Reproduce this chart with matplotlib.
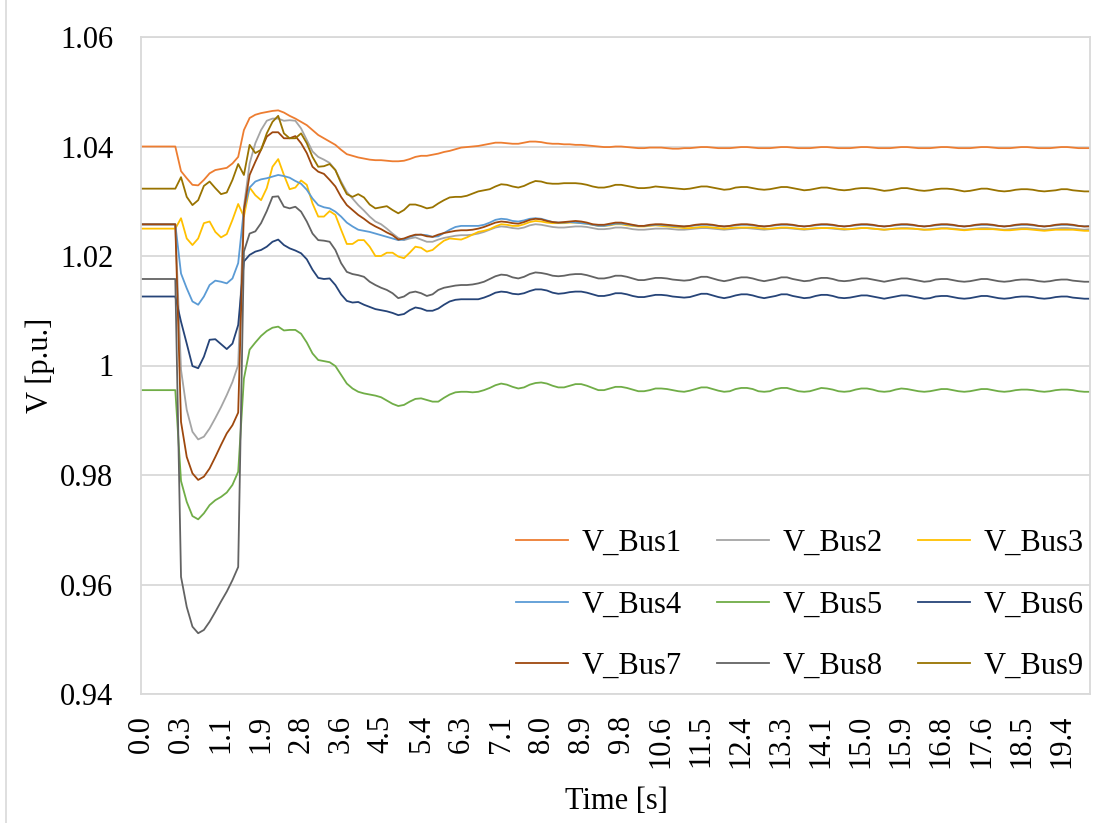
import matplotlib
matplotlib.use('Agg')
import matplotlib.pyplot as plt
import numpy as np

# bus voltages after the fault, one value per time step (167 steps)
tick_labels = ['0.0', '0.3', '1.1', '1.9', '2.8', '3.6', '4.5', '5.4', '6.3', '7.1', '8.0', '8.9',
               '9.8', '10.6', '11.5', '12.4', '13.3', '14.1', '15.0', '15.9', '16.8', '17.6', '18.5', '19.4']

v_bus1 = [
    1.0400, 1.0400, 1.0400, 1.0400, 1.0400, 1.0400, 1.0400,
    1.0355, 1.0342, 1.0330, 1.0329, 1.0339, 1.0351, 1.0357, 1.0359, 1.0361, 1.0369, 1.0381,
    1.0430, 1.0452, 1.0458, 1.0461, 1.0463, 1.0465, 1.0466, 1.0462, 1.0456,
    1.0451, 1.0445, 1.0439, 1.0430, 1.0421, 1.0415, 1.0409, 1.0403, 1.0394, 1.0386, 1.0383, 1.0380, 1.0378,
    1.0376, 1.0375, 1.0375, 1.0374, 1.0373, 1.0373, 1.0374, 1.0377, 1.0381, 1.0383, 1.0383, 1.0385, 1.0387,
    1.0390, 1.0392, 1.0395, 1.0398, 1.0399, 1.0400, 1.0401, 1.0403,
    1.0405, 1.0407, 1.0407, 1.0406, 1.0405, 1.0405, 1.0407, 1.0409, 1.0409, 1.0408,
    1.0406, 1.0405, 1.0405, 1.0404, 1.0404, 1.0403, 1.0403, 1.0402, 1.0401, 1.0400,
    1.0399, 1.0399, 1.0400, 1.0400, 1.0399, 1.0398, 1.0397, 1.0397, 1.0398, 1.0398, 1.0398, 1.0397, 1.0396, 1.0396,
    1.0397, 1.0397, 1.0398, 1.0399, 1.0399, 1.0398, 1.0397,
    1.0397, 1.0397, 1.0398, 1.0399, 1.0399, 1.0398, 1.0397,
    1.0397, 1.0397, 1.0398, 1.0399, 1.0399, 1.0398, 1.0397,
    1.0397, 1.0397, 1.0398, 1.0399, 1.0399, 1.0398, 1.0397,
    1.0397, 1.0397, 1.0398, 1.0399, 1.0399, 1.0398, 1.0397,
    1.0397, 1.0397, 1.0398, 1.0399, 1.0399, 1.0398, 1.0397,
    1.0397, 1.0397, 1.0398, 1.0399, 1.0399, 1.0398, 1.0397,
    1.0397, 1.0397, 1.0398, 1.0399, 1.0399, 1.0398, 1.0397,
    1.0397, 1.0397, 1.0398, 1.0399, 1.0399, 1.0398, 1.0397,
    1.0397, 1.0397, 1.0398, 1.0399, 1.0399, 1.0398, 1.0397,
    1.0397, 1.0397]

v_bus2 = [
    1.0257, 1.0257, 1.0257, 1.0257, 1.0257, 1.0257, 1.0257,
    0.9992, 0.9919, 0.9879, 0.9865, 0.9870, 0.9885, 0.9904, 0.9924, 0.9946, 0.9970, 1.0001,
    1.0290, 1.0369, 1.0406, 1.0430, 1.0447, 1.0451, 1.0451, 1.0447, 1.0448, 1.0447, 1.0433, 1.0412, 1.0391,
    1.0381, 1.0376, 1.0370, 1.0357, 1.0336, 1.0317, 1.0305, 1.0293, 1.0283, 1.0272, 1.0263, 1.0258, 1.0250,
    1.0241, 1.0233, 1.0229, 1.0232, 1.0234, 1.0230, 1.0226, 1.0226, 1.0230,
    1.0233, 1.0235, 1.0237, 1.0238, 1.0238, 1.0239, 1.0241, 1.0244, 1.0248, 1.0252, 1.0254, 1.0253, 1.0251, 1.0250,
    1.0252, 1.0256, 1.0258, 1.0257, 1.0255, 1.0253, 1.0252, 1.0252, 1.0253, 1.0254, 1.0254, 1.0253, 1.0251, 1.0249,
    1.0249, 1.0250, 1.0252, 1.0252, 1.0251, 1.0249, 1.0248, 1.0248, 1.0249, 1.0250, 1.0250, 1.0250, 1.0249, 1.0248,
    1.0248, 1.0249, 1.0250, 1.0251, 1.0251, 1.0250, 1.0249,
    1.0248, 1.0249, 1.0250, 1.0251, 1.0251, 1.0250, 1.0249,
    1.0248, 1.0249, 1.0250, 1.0251, 1.0251, 1.0250, 1.0249,
    1.0248, 1.0249, 1.0250, 1.0251, 1.0251, 1.0250, 1.0249,
    1.0248, 1.0249, 1.0250, 1.0251, 1.0251, 1.0250, 1.0249,
    1.0248, 1.0249, 1.0250, 1.0251, 1.0251, 1.0250, 1.0249,
    1.0248, 1.0249, 1.0250, 1.0251, 1.0251, 1.0250, 1.0249,
    1.0248, 1.0249, 1.0250, 1.0251, 1.0251, 1.0250, 1.0249,
    1.0248, 1.0249, 1.0250, 1.0251, 1.0251, 1.0250, 1.0249,
    1.0248, 1.0249, 1.0250, 1.0251, 1.0251, 1.0250, 1.0249,
    1.0248, 1.0249]

v_bus3 = [
    1.0250, 1.0250, 1.0250, 1.0250, 1.0250, 1.0250, 1.0250,
    1.0269, 1.0232, 1.0220, 1.0232, 1.0260, 1.0263, 1.0244, 1.0234, 1.0240, 1.0266, 1.0295,
    1.0272, 1.0325, 1.0311, 1.0302, 1.0324, 1.0363, 1.0377, 1.0348, 1.0322,
    1.0325, 1.0338, 1.0330, 1.0296, 1.0272, 1.0272, 1.0282, 1.0275, 1.0248, 1.0222, 1.0222, 1.0229, 1.0229,
    1.0217, 1.0200, 1.0200, 1.0206, 1.0206, 1.0199, 1.0196, 1.0206, 1.0217, 1.0215, 1.0208, 1.0211, 1.0220,
    1.0228, 1.0232, 1.0231, 1.0230, 1.0234, 1.0239, 1.0244, 1.0246, 1.0249, 1.0254, 1.0258, 1.0257, 1.0255, 1.0255,
    1.0258, 1.0262, 1.0264, 1.0263, 1.0261, 1.0260, 1.0260, 1.0260, 1.0261, 1.0261, 1.0260, 1.0259, 1.0257, 1.0255,
    1.0255, 1.0256, 1.0258, 1.0258, 1.0256, 1.0255, 1.0254, 1.0254, 1.0255, 1.0256, 1.0255, 1.0254, 1.0253, 1.0252,
    1.0251, 1.0251, 1.0252, 1.0253, 1.0253, 1.0252, 1.0251,
    1.0250, 1.0251, 1.0252, 1.0252, 1.0252, 1.0252, 1.0251,
    1.0250, 1.0250, 1.0251, 1.0252, 1.0252, 1.0251, 1.0250,
    1.0249, 1.0250, 1.0251, 1.0251, 1.0251, 1.0251, 1.0250,
    1.0249, 1.0249, 1.0250, 1.0251, 1.0251, 1.0250, 1.0249,
    1.0248, 1.0249, 1.0250, 1.0250, 1.0250, 1.0250, 1.0249,
    1.0248, 1.0248, 1.0249, 1.0250, 1.0250, 1.0249, 1.0248,
    1.0247, 1.0248, 1.0249, 1.0249, 1.0249, 1.0249, 1.0248,
    1.0247, 1.0247, 1.0248, 1.0249, 1.0249, 1.0248, 1.0247,
    1.0246, 1.0247, 1.0248, 1.0248, 1.0248, 1.0248, 1.0247,
    1.0246, 1.0246]

v_bus4 = [
    1.0258, 1.0258, 1.0258, 1.0258, 1.0258, 1.0258, 1.0258,
    1.0168, 1.0141, 1.0117, 1.0111, 1.0126, 1.0147, 1.0155, 1.0153, 1.0150, 1.0159, 1.0187,
    1.0285, 1.0325, 1.0336, 1.0340, 1.0342, 1.0345, 1.0348, 1.0346, 1.0343,
    1.0337, 1.0332, 1.0321, 1.0305, 1.0293, 1.0289, 1.0287, 1.0281, 1.0272, 1.0261, 1.0254, 1.0248, 1.0246,
    1.0244, 1.0241, 1.0238, 1.0235, 1.0232, 1.0229, 1.0230, 1.0235, 1.0238, 1.0239, 1.0238, 1.0235, 1.0236,
    1.0242, 1.0248, 1.0253, 1.0255, 1.0255, 1.0255, 1.0255, 1.0257, 1.0261, 1.0266, 1.0268, 1.0267, 1.0264, 1.0263,
    1.0265, 1.0268, 1.0269, 1.0268, 1.0265, 1.0262, 1.0261, 1.0261, 1.0262, 1.0261, 1.0260, 1.0259, 1.0257, 1.0255,
    1.0255, 1.0257, 1.0259, 1.0259, 1.0258, 1.0256, 1.0255, 1.0255, 1.0256, 1.0257, 1.0257, 1.0256, 1.0255, 1.0254,
    1.0254, 1.0255, 1.0256, 1.0257, 1.0257, 1.0256, 1.0255,
    1.0254, 1.0255, 1.0256, 1.0257, 1.0257, 1.0256, 1.0255,
    1.0254, 1.0255, 1.0256, 1.0257, 1.0257, 1.0256, 1.0255,
    1.0254, 1.0255, 1.0256, 1.0257, 1.0257, 1.0256, 1.0255,
    1.0254, 1.0255, 1.0256, 1.0257, 1.0257, 1.0256, 1.0255,
    1.0254, 1.0255, 1.0256, 1.0257, 1.0257, 1.0256, 1.0255,
    1.0254, 1.0255, 1.0256, 1.0257, 1.0257, 1.0256, 1.0255,
    1.0254, 1.0255, 1.0256, 1.0257, 1.0257, 1.0256, 1.0255,
    1.0254, 1.0255, 1.0256, 1.0257, 1.0257, 1.0256, 1.0255,
    1.0254, 1.0255, 1.0256, 1.0257, 1.0257, 1.0256, 1.0255,
    1.0254, 1.0255]

v_bus5 = [
    0.9955, 0.9955, 0.9955, 0.9955, 0.9955, 0.9955, 0.9955,
    0.9789, 0.9751, 0.9725, 0.9719, 0.9730, 0.9745, 0.9754, 0.9760, 0.9768, 0.9782, 0.9806,
    0.9976, 1.0029, 1.0042, 1.0054, 1.0063, 1.0069, 1.0071, 1.0064, 1.0065, 1.0065, 1.0058, 1.0042, 1.0022,
    1.0010, 1.0008, 1.0006, 0.9999, 0.9983, 0.9967, 0.9958, 0.9952, 0.9949, 0.9947, 0.9945, 0.9942, 0.9936,
    0.9930, 0.9926, 0.9928, 0.9934, 0.9939, 0.9940, 0.9937, 0.9934, 0.9934,
    0.9941, 0.9947, 0.9951, 0.9952, 0.9952, 0.9951, 0.9952, 0.9955, 0.9959, 0.9964, 0.9967, 0.9965, 0.9961, 0.9958,
    0.9960, 0.9965, 0.9968, 0.9969, 0.9967, 0.9963, 0.9960, 0.9960, 0.9963, 0.9966, 0.9966, 0.9963, 0.9959, 0.9955,
    0.9955, 0.9958, 0.9961, 0.9961, 0.9959, 0.9956, 0.9953, 0.9953, 0.9955, 0.9958, 0.9958, 0.9957, 0.9955, 0.9953,
    0.9952, 0.9954, 0.9957, 0.9960, 0.9960, 0.9957, 0.9954,
    0.9952, 0.9953, 0.9957, 0.9959, 0.9959, 0.9957, 0.9953,
    0.9952, 0.9953, 0.9957, 0.9959, 0.9959, 0.9956, 0.9953,
    0.9952, 0.9953, 0.9956, 0.9959, 0.9958, 0.9956, 0.9953,
    0.9952, 0.9953, 0.9956, 0.9958, 0.9958, 0.9956, 0.9953,
    0.9952, 0.9953, 0.9956, 0.9958, 0.9957, 0.9955, 0.9953,
    0.9952, 0.9953, 0.9955, 0.9957, 0.9957, 0.9955, 0.9953,
    0.9952, 0.9953, 0.9955, 0.9957, 0.9957, 0.9955, 0.9953,
    0.9952, 0.9953, 0.9955, 0.9956, 0.9956, 0.9955, 0.9953,
    0.9952, 0.9953, 0.9955, 0.9956, 0.9956, 0.9955, 0.9953,
    0.9952, 0.9952]

v_bus6 = [
    1.0126, 1.0126, 1.0126, 1.0126, 1.0126, 1.0126, 1.0126,
    1.0080, 1.0040, 0.9999, 0.9995, 1.0016, 1.0047, 1.0048, 1.0039, 1.0030, 1.0040, 1.0074,
    1.0190, 1.0202, 1.0208, 1.0211, 1.0217, 1.0226, 1.0230, 1.0220, 1.0214, 1.0210, 1.0205, 1.0194, 1.0175,
    1.0160, 1.0158, 1.0159, 1.0147, 1.0130, 1.0118, 1.0115, 1.0116, 1.0111, 1.0107, 1.0103, 1.0101, 1.0099,
    1.0096, 1.0092, 1.0094, 1.0101, 1.0106, 1.0104, 1.0100, 1.0100, 1.0104,
    1.0111, 1.0117, 1.0120, 1.0121, 1.0121, 1.0121, 1.0121, 1.0124, 1.0128, 1.0133, 1.0135, 1.0134, 1.0131, 1.0130,
    1.0132, 1.0136, 1.0139, 1.0139, 1.0137, 1.0133, 1.0131, 1.0132, 1.0134, 1.0135, 1.0135, 1.0133, 1.0130, 1.0127,
    1.0127, 1.0129, 1.0132, 1.0132, 1.0130, 1.0127, 1.0125, 1.0125, 1.0127, 1.0129, 1.0129, 1.0128, 1.0126, 1.0125,
    1.0124, 1.0125, 1.0128, 1.0131, 1.0131, 1.0128, 1.0125,
    1.0123, 1.0125, 1.0128, 1.0130, 1.0130, 1.0128, 1.0125,
    1.0123, 1.0125, 1.0127, 1.0130, 1.0130, 1.0127, 1.0125,
    1.0123, 1.0124, 1.0127, 1.0129, 1.0129, 1.0127, 1.0124,
    1.0123, 1.0124, 1.0126, 1.0128, 1.0128, 1.0126, 1.0124,
    1.0122, 1.0124, 1.0126, 1.0128, 1.0128, 1.0126, 1.0124,
    1.0122, 1.0123, 1.0126, 1.0127, 1.0127, 1.0125, 1.0123,
    1.0122, 1.0123, 1.0125, 1.0127, 1.0127, 1.0125, 1.0123,
    1.0122, 1.0123, 1.0125, 1.0126, 1.0126, 1.0125, 1.0123,
    1.0122, 1.0123, 1.0125, 1.0126, 1.0126, 1.0124, 1.0123,
    1.0122, 1.0122]

v_bus7 = [
    1.0258, 1.0258, 1.0258, 1.0258, 1.0258, 1.0258, 1.0258,
    0.9897, 0.9833, 0.9803, 0.9791, 0.9797, 0.9812, 0.9833, 0.9855, 0.9876, 0.9891, 0.9914,
    1.0284, 1.0348, 1.0372, 1.0394, 1.0418, 1.0426, 1.0426, 1.0415, 1.0415, 1.0419, 1.0406, 1.0388, 1.0363,
    1.0354, 1.0350, 1.0339, 1.0327, 1.0308, 1.0293, 1.0284, 1.0275, 1.0268, 1.0260, 1.0254, 1.0249, 1.0243,
    1.0238, 1.0230, 1.0232, 1.0236, 1.0239, 1.0239, 1.0236, 1.0235, 1.0239,
    1.0242, 1.0244, 1.0246, 1.0247, 1.0247, 1.0248, 1.0250, 1.0253, 1.0257, 1.0261, 1.0263, 1.0262, 1.0260, 1.0259,
    1.0262, 1.0266, 1.0268, 1.0267, 1.0264, 1.0262, 1.0261, 1.0262, 1.0263, 1.0264, 1.0263, 1.0261, 1.0258, 1.0257,
    1.0257, 1.0259, 1.0261, 1.0261, 1.0259, 1.0257, 1.0255, 1.0255, 1.0257, 1.0258, 1.0258, 1.0257, 1.0256, 1.0255,
    1.0254, 1.0255, 1.0257, 1.0258, 1.0258, 1.0257, 1.0255,
    1.0254, 1.0255, 1.0257, 1.0258, 1.0258, 1.0257, 1.0255,
    1.0254, 1.0255, 1.0257, 1.0258, 1.0258, 1.0257, 1.0255,
    1.0254, 1.0255, 1.0257, 1.0258, 1.0258, 1.0257, 1.0255,
    1.0254, 1.0255, 1.0257, 1.0258, 1.0258, 1.0257, 1.0255,
    1.0254, 1.0255, 1.0257, 1.0258, 1.0258, 1.0257, 1.0255,
    1.0254, 1.0255, 1.0257, 1.0258, 1.0258, 1.0257, 1.0255,
    1.0254, 1.0255, 1.0257, 1.0258, 1.0258, 1.0257, 1.0255,
    1.0254, 1.0255, 1.0257, 1.0258, 1.0258, 1.0257, 1.0255,
    1.0254, 1.0255, 1.0257, 1.0258, 1.0258, 1.0257, 1.0255,
    1.0254, 1.0254]

v_bus8 = [
    1.0158, 1.0158, 1.0158, 1.0158, 1.0158, 1.0158, 1.0158,
    0.9614, 0.9559, 0.9523, 0.9511, 0.9517, 0.9532, 0.9550, 0.9569, 0.9587, 0.9608, 0.9632,
    1.0208, 1.0241, 1.0245, 1.0260, 1.0282, 1.0308, 1.0309, 1.0290, 1.0287, 1.0290, 1.0281, 1.0263, 1.0241,
    1.0229, 1.0228, 1.0226, 1.0211, 1.0187, 1.0171, 1.0167, 1.0165, 1.0162, 1.0153, 1.0147, 1.0142, 1.0138,
    1.0132, 1.0123, 1.0126, 1.0133, 1.0135, 1.0132, 1.0127, 1.0130, 1.0138,
    1.0142, 1.0144, 1.0146, 1.0147, 1.0147, 1.0148, 1.0150, 1.0153, 1.0158, 1.0163, 1.0166, 1.0165, 1.0161, 1.0159,
    1.0162, 1.0167, 1.0170, 1.0169, 1.0167, 1.0164, 1.0163, 1.0164, 1.0166, 1.0167, 1.0167, 1.0165, 1.0162, 1.0159,
    1.0159, 1.0161, 1.0164, 1.0164, 1.0162, 1.0159, 1.0156, 1.0156, 1.0158, 1.0160, 1.0160, 1.0159, 1.0157, 1.0156,
    1.0155, 1.0156, 1.0159, 1.0162, 1.0162, 1.0159, 1.0156,
    1.0154, 1.0156, 1.0159, 1.0161, 1.0161, 1.0159, 1.0156,
    1.0154, 1.0156, 1.0158, 1.0161, 1.0161, 1.0158, 1.0156,
    1.0154, 1.0155, 1.0158, 1.0160, 1.0160, 1.0158, 1.0155,
    1.0154, 1.0155, 1.0157, 1.0159, 1.0159, 1.0157, 1.0155,
    1.0153, 1.0155, 1.0157, 1.0159, 1.0159, 1.0157, 1.0155,
    1.0153, 1.0154, 1.0157, 1.0158, 1.0158, 1.0156, 1.0154,
    1.0153, 1.0154, 1.0156, 1.0158, 1.0158, 1.0156, 1.0154,
    1.0153, 1.0154, 1.0156, 1.0157, 1.0157, 1.0156, 1.0154,
    1.0153, 1.0154, 1.0156, 1.0157, 1.0157, 1.0155, 1.0154,
    1.0153, 1.0153]

v_bus9 = [
    1.0323, 1.0323, 1.0323, 1.0323, 1.0323, 1.0323, 1.0323,
    1.0344, 1.0308, 1.0293, 1.0302, 1.0328, 1.0336, 1.0324, 1.0313, 1.0316, 1.0339, 1.0368,
    1.0348, 1.0403, 1.0388, 1.0394, 1.0424, 1.0445, 1.0456, 1.0424, 1.0415,
    1.0415, 1.0424, 1.0406, 1.0381, 1.0363, 1.0364, 1.0368, 1.0357, 1.0333, 1.0313, 1.0308, 1.0313, 1.0307,
    1.0294, 1.0287, 1.0289, 1.0291, 1.0284, 1.0278, 1.0284, 1.0294, 1.0294, 1.0291, 1.0287, 1.0289, 1.0296,
    1.0302, 1.0307, 1.0308, 1.0308, 1.0310, 1.0314, 1.0318, 1.0320, 1.0322, 1.0327, 1.0331, 1.0330, 1.0327, 1.0325,
    1.0328, 1.0333, 1.0337, 1.0336, 1.0333, 1.0332, 1.0332, 1.0333, 1.0333, 1.0333, 1.0332, 1.0330, 1.0327, 1.0325,
    1.0325, 1.0327, 1.0330, 1.0330, 1.0328, 1.0326, 1.0324, 1.0324, 1.0325, 1.0327, 1.0326, 1.0325, 1.0324, 1.0323,
    1.0322, 1.0323, 1.0325, 1.0327, 1.0327, 1.0325, 1.0323,
    1.0321, 1.0322, 1.0325, 1.0326, 1.0326, 1.0324, 1.0322,
    1.0321, 1.0322, 1.0324, 1.0326, 1.0326, 1.0324, 1.0322,
    1.0320, 1.0321, 1.0323, 1.0325, 1.0325, 1.0323, 1.0321,
    1.0320, 1.0321, 1.0323, 1.0324, 1.0324, 1.0323, 1.0321,
    1.0319, 1.0320, 1.0322, 1.0324, 1.0324, 1.0322, 1.0320,
    1.0319, 1.0320, 1.0322, 1.0323, 1.0323, 1.0322, 1.0320,
    1.0318, 1.0319, 1.0321, 1.0323, 1.0323, 1.0321, 1.0319,
    1.0318, 1.0319, 1.0321, 1.0322, 1.0322, 1.0321, 1.0319,
    1.0318, 1.0319, 1.0320, 1.0322, 1.0322, 1.0320, 1.0319,
    1.0318, 1.0318]

series = [v_bus1, v_bus2, v_bus3, v_bus4, v_bus5, v_bus6, v_bus7, v_bus8, v_bus9]
names = ['V_Bus1', 'V_Bus2', 'V_Bus3', 'V_Bus4', 'V_Bus5', 'V_Bus6', 'V_Bus7', 'V_Bus8', 'V_Bus9']
colors = ['#ED7D31', '#A5A5A5', '#FFC000', '#5B9BD5', '#70AD47', '#264478', '#9E480E', '#636363', '#997300']

for s in series:
    assert len(s) == 167, len(s)

plt.rcParams['font.family'] = ['Liberation Serif', 'DejaVu Serif']

W, H = 1113, 823
fig = plt.figure(figsize=(W / 100, H / 100), dpi=100)
ax = fig.add_axes([141 / W, 1 - 694 / H, 949 / W, 657 / H])

x = np.arange(167)
lines = []
for s, name, c in zip(series, names, colors):
    ln, = ax.plot(x, s, color=c, lw=1.3, label=name)
    lines.append(ln)

# excel-like axes: light grid, no tick marks
ax.set_xlim(0, 166)
ax.set_ylim(0.94, 1.06)
ax.set_yticks([0.94, 0.96, 0.98, 1.0, 1.02, 1.04, 1.06])
ax.set_yticklabels(['0.94', '0.96', '0.98', '1', '1.02', '1.04', '1.06'])
ax.set_xticks(np.arange(0, 167, 7)[:len(tick_labels)])
ax.set_xticklabels(tick_labels, rotation=90)
ax.grid(axis='y', color='#D9D9D9', lw=1.3)
ax.set_axisbelow(True)
for sp in ax.spines.values():
    sp.set_color('#D9D9D9')
    sp.set_linewidth(1.3)
ax.tick_params(axis='both', length=0, labelsize=22)
ax.tick_params(axis='x', pad=15)
ax.tick_params(axis='y', pad=20)

fig.text(40 / W, 1 - 365 / H, 'V [p.u.]', rotation=90, ha='center', va='center', fontsize=22)
fig.text(616 / W, 1 - 809 / H, 'Time [s]', ha='center', va='baseline', fontsize=22)

# legend is filled row by row in the original, matplotlib fills by column
order = [0, 3, 6, 1, 4, 7, 2, 5, 8]
ax.legend([lines[i] for i in order], [names[i] for i in order],
          ncol=3, loc='lower left', bbox_to_anchor=(516 / W, 1 - 681 / H), bbox_transform=fig.transFigure,
          frameon=False, fontsize=22, handlelength=1.7, handletextpad=0.45, columnspacing=1.15,
          labelspacing=1.07, borderpad=0, borderaxespad=0)

# chart area border
fig.add_artist(plt.Line2D([6 / W, 6 / W], [0, 1], color='#D9D9D9', lw=1.2))

fig.savefig('out.png', dpi=100)
